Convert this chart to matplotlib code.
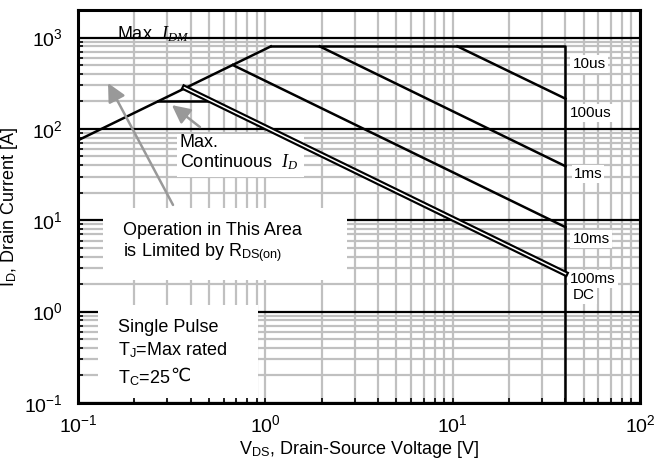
import matplotlib
matplotlib.use('Agg')
from matplotlib import pyplot as plt
from matplotlib.patches import Rectangle

plt.rcParams['font.family'] = ['Liberation Sans', 'DejaVu Sans']
plt.rcParams['mathtext.fontset'] = 'custom'
plt.rcParams['mathtext.rm'] = 'Liberation Sans'
plt.rcParams['mathtext.it'] = 'Liberation Serif:italic'
plt.rcParams['axes.unicode_minus'] = False

# Grenzlinien der SOA (V, A)
vds_rds = [0.1, 1.07]
id_rds = [75, 800]
vds_idm = [1.07, 40, 40]
id_idm = [800, 800, 0.1]
vds_100us = [10.6, 40]
id_100us = [800, 214]
vds_1ms = [1.95, 40]
id_1ms = [800, 39]
vds_10ms = [0.67, 40]
id_10ms = [500, 8.4]
vds_dc = [0.37, 40]
id_dc = [282, 2.6]
vds_cont = [0.267, 0.52]
id_cont = [200, 200]

puls_labels = ['10us', '100us', '1ms', '10ms', '100ms', 'DC']
puls_x = [0.880, 0.875, 0.882, 0.880, 0.875, 0.880]
puls_y = [0.852, 0.728, 0.572, 0.407, 0.305, 0.265]

x_grid = [m * 10.0 ** e for e in (-1, 0, 1) for m in range(1, 10)] + [100]
y_minor = [m * 10.0 ** e for e in (-1, 0, 1, 2, 3) for m in range(2, 10)]
y_major = [0.1, 1, 10, 100, 1000]

fig = plt.figure(figsize=(6.59, 4.63), dpi=100)
ax = fig.add_axes([0.1184, 0.1296, 0.8528, 0.8488])
ax.set_xscale('log')
ax.set_yscale('log')
ax.set_xlim(0.1, 100)
ax.set_ylim(0.1, 2000)

grau = '#c0c0c0'
for x in x_grid:
    ax.axvline(x, color=grau, lw=1.6, zorder=0.6)
for y in y_minor:
    ax.axhline(y, color=grau, lw=1.6, zorder=0.6)
for y in y_major:
    ax.axhline(y, color='black', lw=1.6, zorder=0.7)

# weisse Kaesten fuer die Texte
ax.add_patch(Rectangle((0.0445, 0.313), 0.4345, 0.183, transform=ax.transAxes,
                       facecolor='white', edgecolor='none', zorder=1.5))
ax.add_patch(Rectangle((0.0356, 0.008), 0.2844, 0.241, transform=ax.transAxes,
                       facecolor='white', edgecolor='none', zorder=1.5))
ax.add_patch(Rectangle((0.176, 0.575), 0.226, 0.11, transform=ax.transAxes,
                       facecolor='white', edgecolor='none', zorder=1.5))

lw = 1.8
ax.plot(vds_rds, id_rds, color='black', lw=lw, zorder=2)
ax.plot(vds_idm, id_idm, color='black', lw=lw, zorder=2)
ax.plot(vds_100us, id_100us, color='black', lw=lw, zorder=2)
ax.plot(vds_1ms, id_1ms, color='black', lw=lw, zorder=2)
ax.plot(vds_10ms, id_10ms, color='black', lw=lw, zorder=2)
ax.plot(vds_dc, id_dc, color='black', lw=4.2, zorder=2)
ax.plot(vds_dc, id_dc, color='white', lw=1.1, zorder=2.1)
ax.plot(vds_cont, id_cont, color='black', lw=lw, zorder=2)

for lab, x, y in zip(puls_labels, puls_x, puls_y):
    ax.text(x, y, lab, transform=ax.transAxes, fontsize=11, va='baseline',
            ha='left', zorder=1.8,
            bbox=dict(facecolor='white', edgecolor='none', pad=1.5))

fs = 13
ax.text(0.069, 0.925, 'Max. $I_{DM}$', transform=ax.transAxes, fontsize=fs,
        va='baseline', zorder=3)
ax.text(0.181, 0.651, 'Max.', transform=ax.transAxes, fontsize=fs,
        va='baseline', zorder=3)
ax.text(0.181, 0.600, 'Continuous  $I_D$', transform=ax.transAxes, fontsize=fs,
        va='baseline', zorder=3)
ax.text(0.080, 0.427, 'Operation in This Area', transform=ax.transAxes,
        fontsize=fs, va='baseline', zorder=3)
ax.text(0.080, 0.374, 'is Limited by R$_\\mathrm{DS(on)}$', transform=ax.transAxes,
        fontsize=fs, va='baseline', zorder=3)
ax.text(0.0712, 0.181, 'Single Pulse', transform=ax.transAxes, fontsize=fs,
        va='baseline', zorder=3)
ax.text(0.0712, 0.122, 'T$_\\mathrm{J}$=Max rated', transform=ax.transAxes,
        fontsize=fs, va='baseline', zorder=3)
tc = ax.text(0.0712, 0.051, 'T$_\\mathrm{C}$=25', transform=ax.transAxes,
             fontsize=fs, va='baseline', zorder=3)
ax.annotate('\u2103', xy=(1, 0), xycoords=tc, xytext=(-0.5, 2.2),
            textcoords='offset points', fontsize=13, va='bottom', ha='left',
            family=['DejaVu Sans'], zorder=3)

pfeil = dict(arrowstyle='-|>,head_length=1.1,head_width=0.55', color='#999999',
             lw=1.8, shrinkA=0, shrinkB=0)
ax.annotate('', xy=(0.0534, 0.814), xytext=(0.169, 0.504),
            xycoords='axes fraction', arrowprops=pfeil, zorder=3)
ax.annotate('', xy=(0.167, 0.758), xytext=(0.217, 0.702),
            xycoords='axes fraction', arrowprops=pfeil, zorder=3)

for s in ax.spines.values():
    s.set_linewidth(2.2)
    s.set_zorder(4)
ax.tick_params(which='both', direction='in', length=3.5, width=1.2,
               labelsize=14, top=False, right=False)
ax.tick_params(axis='x', which='major', pad=8)
ax.tick_params(axis='y', which='major', pad=11)

ax.set_xlabel('V$_\\mathrm{DS}$, Drain-Source Voltage [V]', fontsize=13, labelpad=2)
ax.set_ylabel('I$_\\mathrm{D}$, Drain Current [A]', fontsize=13, labelpad=3)

fig.savefig('out.png', dpi=100)
